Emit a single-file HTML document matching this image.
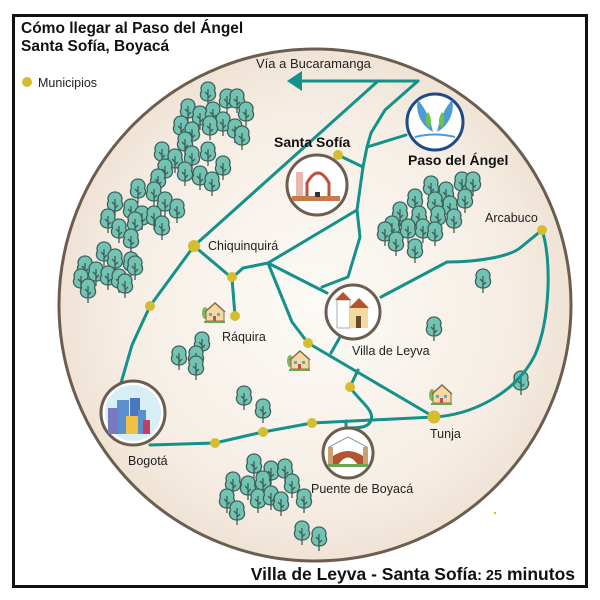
<!DOCTYPE html>
<html><head><meta charset="utf-8"><style>
html,body{margin:0;padding:0;background:#fff;}
svg{display:block;font-family:"Liberation Sans",Arial,sans-serif;}
</style></head><body>
<svg width="600" height="600" viewBox="0 0 600 600" xmlns="http://www.w3.org/2000/svg">
<defs>
<radialGradient id="bg" cx="0.5" cy="0.5" r="0.5">
<stop offset="0" stop-color="#fcfaf6"/><stop offset="0.75" stop-color="#f6eee5"/><stop offset="1" stop-color="#efe3d5"/>
</radialGradient>
<symbol id="t" viewBox="-10 -14 20 28" width="20" height="28" overflow="visible">
<path d="M0,-11 C5.5,-11 8,-6 6.5,-2 C9,2 7,8 0,8 C-7,8 -9,2 -6.5,-2 C-8,-6 -5.5,-11 0,-11Z" fill="#72c3b2" stroke="#3f5e5a" stroke-width="1.3"/>
<path d="M0,-4 V13 M0,2 L-3,-1 M0,5 L3,2" stroke="#3f5e5a" stroke-width="1.3" fill="none"/>
</symbol>
<symbol id="h" viewBox="0 0 24 22" width="24" height="22" overflow="visible">
<ellipse cx="4" cy="12" rx="3" ry="6" fill="#7fb85a"/>
<path d="M5,10 L14,2 L23,10 V20 H5Z" fill="#f4d9a0" stroke="#8a6a4a" stroke-width="1"/>
<path d="M4,11 L14,2 L24,11" fill="none" stroke="#8a6a4a" stroke-width="1.5"/>
<rect x="8" y="12" width="3" height="3" fill="#5aa6d6"/><rect x="16" y="12" width="3" height="3" fill="#5aa6d6"/>
<rect x="12" y="15" width="3" height="5" fill="#c0504d"/>
<rect x="3" y="20" width="21" height="2" fill="#6aa84f"/>
</symbol>
</defs>
<rect x="13.5" y="15.5" width="573" height="571" fill="#fff" stroke="#111" stroke-width="3"/>
<text x="21" y="33" font-size="15.5" font-weight="bold" fill="#111">Cómo llegar al Paso del Ángel</text>
<text x="21" y="51" font-size="15.5" font-weight="bold" fill="#111">Santa Sofía, Boyacá</text>
<circle cx="27" cy="82" r="5" fill="#d4bd2f"/>
<text x="38" y="87" font-size="12.5" fill="#222">Municipios</text>

<circle cx="315" cy="305" r="256" fill="url(#bg)" stroke="#6b5e50" stroke-width="3"/>

<g>
<use href="#t" x="198" y="79"/><use href="#t" x="217" y="86"/><use href="#t" x="227" y="86"/><use href="#t" x="236" y="99"/>
<use href="#t" x="178" y="96"/><use href="#t" x="190" y="103"/><use href="#t" x="203" y="99"/><use href="#t" x="213" y="109"/>
<use href="#t" x="225" y="116"/><use href="#t" x="232" y="123"/><use href="#t" x="171" y="113"/><use href="#t" x="182" y="119"/>
<use href="#t" x="200" y="113"/><use href="#t" x="175" y="129"/><use href="#t" x="152" y="139"/><use href="#t" x="165" y="146"/>
<use href="#t" x="182" y="143"/><use href="#t" x="198" y="139"/><use href="#t" x="213" y="153"/><use href="#t" x="155" y="156"/>
<use href="#t" x="175" y="159"/><use href="#t" x="190" y="163"/><use href="#t" x="202" y="169"/><use href="#t" x="148" y="166"/>
<use href="#t" x="128" y="176"/><use href="#t" x="144" y="179"/><use href="#t" x="155" y="189"/><use href="#t" x="167" y="196"/>
<use href="#t" x="105" y="189"/><use href="#t" x="121" y="196"/><use href="#t" x="132" y="203"/><use href="#t" x="144" y="203"/>
<use href="#t" x="98" y="206"/><use href="#t" x="109" y="216"/><use href="#t" x="125" y="209"/><use href="#t" x="152" y="213"/>
<use href="#t" x="121" y="226"/><use href="#t" x="94" y="239"/><use href="#t" x="105" y="246"/><use href="#t" x="121" y="249"/>
<use href="#t" x="75" y="253"/><use href="#t" x="86" y="259"/><use href="#t" x="98" y="263"/><use href="#t" x="109" y="266"/>
<use href="#t" x="125" y="253"/><use href="#t" x="71" y="266"/><use href="#t" x="78" y="276"/><use href="#t" x="115" y="271"/>
<use href="#t" x="421" y="173"/><use href="#t" x="436" y="179"/><use href="#t" x="452" y="169"/><use href="#t" x="463" y="169"/>
<use href="#t" x="405" y="186"/><use href="#t" x="425" y="189"/><use href="#t" x="440" y="193"/><use href="#t" x="455" y="186"/>
<use href="#t" x="390" y="199"/><use href="#t" x="409" y="203"/><use href="#t" x="428" y="203"/><use href="#t" x="444" y="206"/>
<use href="#t" x="382" y="213"/><use href="#t" x="398" y="216"/><use href="#t" x="413" y="216"/><use href="#t" x="425" y="219"/>
<use href="#t" x="375" y="219"/><use href="#t" x="386" y="229"/><use href="#t" x="405" y="236"/>
<use href="#t" x="473" y="266"/><use href="#t" x="424" y="314"/><use href="#t" x="511" y="368"/>
<use href="#t" x="192" y="329"/><use href="#t" x="169" y="343"/><use href="#t" x="186" y="343"/><use href="#t" x="186" y="353"/>
<use href="#t" x="234" y="383"/><use href="#t" x="253" y="396"/>
<use href="#t" x="244" y="451"/><use href="#t" x="261" y="458"/><use href="#t" x="275" y="456"/><use href="#t" x="223" y="469"/>
<use href="#t" x="238" y="473"/><use href="#t" x="253" y="468"/><use href="#t" x="282" y="471"/><use href="#t" x="217" y="486"/>
<use href="#t" x="248" y="486"/><use href="#t" x="261" y="483"/><use href="#t" x="271" y="489"/><use href="#t" x="294" y="486"/>
<use href="#t" x="227" y="498"/><use href="#t" x="292" y="518"/><use href="#t" x="309" y="524"/>
</g>

<use href="#h" x="201" y="301"/><use href="#h" x="286" y="349"/><use href="#h" x="428" y="383"/>

<g fill="none" stroke="#13918a" stroke-width="3" stroke-linejoin="round" stroke-linecap="round">
<path d="M418,81 H300"/>
<path d="M378,81 L194,246 L150,306 L132,345 L121,383"/>
<path d="M418,81 L385,110 L371,133 L367,147 L363,167 L357,210 L360,237 L348,277 L322,287"/>
<path d="M367,147 L406,135"/>
<path d="M338,155 L363,167"/>
<path d="M357,210 L268,263 L243,268 L232,278 L194,246"/>
<path d="M232,278 L235,316"/>
<path d="M268,263 L327,293"/>
<path d="M268,263 L292,322 L308,343 L434,417"/>
<path d="M331,353 L340,337"/>
<path d="M381,297 L447,262 C480,262 510,256 520,248 L542,230 C552,260 550,320 535,355 C515,395 470,415 434,417"/>
<path d="M358,370 L350,387 C358,400 375,410 371,420 C369,428 358,428 346,428 L346,421"/>
<path d="M150,445 L215,443 L263,432 L312,423 L434,417"/>
</g>
<path d="M287,81 L302,71 L302,91Z" fill="#13918a"/>

<g fill="#d4bd2f">
<circle cx="194" cy="246" r="6"/><circle cx="232" cy="277" r="5"/><circle cx="235" cy="316" r="5"/>
<circle cx="150" cy="306" r="5"/><circle cx="338" cy="155" r="5"/><circle cx="542" cy="230" r="5"/>
<circle cx="308" cy="343" r="5"/><circle cx="350" cy="387" r="5"/><circle cx="434" cy="417" r="6.5"/>
<circle cx="215" cy="443" r="5"/><circle cx="263" cy="432" r="5"/><circle cx="312" cy="423" r="5"/>
<circle cx="495" cy="513" r="1.2"/>
</g>

<circle cx="435" cy="122" r="28" fill="#fff" stroke="#1f4a8a" stroke-width="3"/>
<path d="M433,132 C420,125 415,110 418,100 C425,108 430,118 433,132Z M437,132 C450,125 455,110 452,100 C445,108 440,118 437,132Z" fill="#4d9ad6"/>
<path d="M428,128 C424,120 426,115 428,112 C432,118 432,124 428,128Z M442,128 C446,120 444,115 442,112 C438,118 438,124 442,128Z" fill="#6cc24a"/>
<path d="M415,137 Q435,132 455,137" stroke="#4d9ad6" stroke-width="2" fill="none"/>

<circle cx="317" cy="185" r="30" fill="#fff" stroke="#6b5e50" stroke-width="3"/>
<rect x="296" y="172" width="7" height="25" fill="#e8b8b0"/>
<path d="M307,198 V183 Q318,163 329,183 V198Z" fill="#fff" stroke="#c0503a" stroke-width="3"/>
<rect x="292" y="196" width="48" height="5" fill="#c97a4a"/>
<rect x="315" y="192" width="5" height="5" fill="#333"/>

<circle cx="353" cy="312" r="27" fill="#fff" stroke="#6b5e50" stroke-width="3"/>
<rect x="337" y="300" width="13" height="28" fill="#fff" stroke="#aaa" stroke-width="1"/>
<path d="M335,300 L343,292 L351,300Z" fill="#b5552f"/>
<rect x="350" y="308" width="18" height="20" fill="#f4d9a0"/>
<path d="M349,308 L359,298 L369,308Z" fill="#b5552f"/>
<rect x="356" y="316" width="5" height="12" fill="#6a4a2a"/>

<circle cx="133" cy="413" r="32" fill="#fff" stroke="#6b5e50" stroke-width="3"/>
<circle cx="133" cy="413" r="28" fill="#d8eef5"/>
<rect x="117" y="400" width="12" height="34" fill="#5a8fd0"/>
<rect x="130" y="398" width="10" height="36" fill="#4a78c0"/>
<rect x="138" y="410" width="8" height="24" fill="#5a8fd0"/>
<rect x="108" y="408" width="10" height="26" fill="#7a78c0"/>
<rect x="126" y="416" width="12" height="18" fill="#f0c040"/>
<rect x="143" y="420" width="7" height="14" fill="#c04060"/>

<circle cx="348" cy="453" r="25" fill="#fff" stroke="#6b5e50" stroke-width="3"/>
<path d="M329,447 L348,437 L367,447" fill="none" stroke="#999" stroke-width="1"/>
<rect x="328" y="447" width="5" height="18" fill="#c9a070"/><rect x="363" y="447" width="5" height="18" fill="#c9a070"/>
<path d="M333,465 V456 Q348,446 363,456 V465 H358 Q348,450 338,465Z" fill="#b5552f"/>
<rect x="328" y="464" width="40" height="3" fill="#6aa84f"/>

<g fill="#222" font-size="12.5">
<text x="256" y="68" font-size="13">Vía a Bucaramanga</text>
<text x="208" y="250">Chiquinquirá</text>
<text x="485" y="222">Arcabuco</text>
<text x="222" y="341">Ráquira</text>
<text x="352" y="355">Villa de Leyva</text>
<text x="128" y="465">Bogotá</text>
<text x="430" y="438">Tunja</text>
<text x="311" y="493">Puente de Boyacá</text>
</g>
<text x="274" y="147" font-size="14" font-weight="bold" fill="#111">Santa Sofía</text>
<text x="408" y="165" font-size="14" font-weight="bold" fill="#111">Paso del Ángel</text>
<text x="575" y="580" font-size="17.5" font-weight="bold" fill="#111" text-anchor="end">Villa de Leyva - Santa Sofía<tspan font-size="14.5">: 25</tspan> minutos</text>
</svg>
</body></html>
